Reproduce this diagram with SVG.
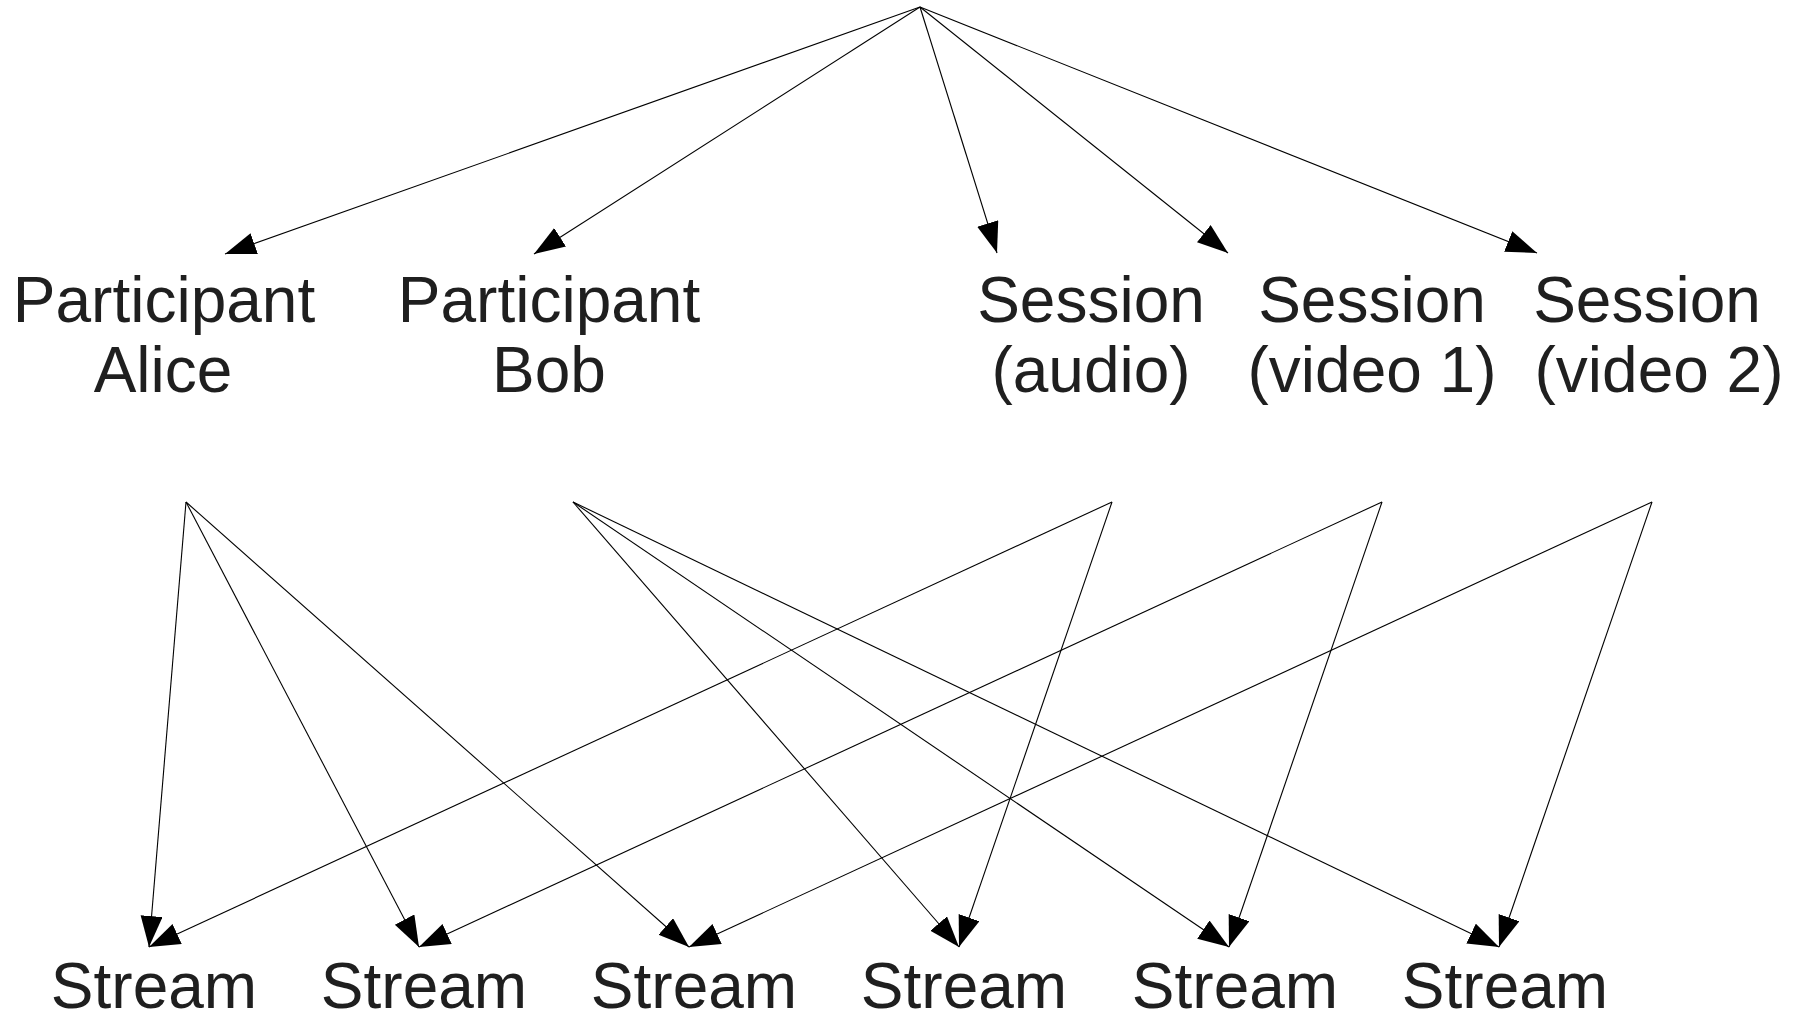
<svg xmlns="http://www.w3.org/2000/svg" width="1801" height="1022" viewBox="0 0 1801 1022">
<style>
.lbl{font-family:"Liberation Sans",Arial,sans-serif;font-size:64px;fill:#1f1f1f;text-anchor:middle}
.edge{stroke:#000;stroke-width:1.1;fill:none;marker-end:url(#arr)}
</style>
<defs>
<marker id="arr" markerUnits="userSpaceOnUse" markerWidth="32" markerHeight="23" refX="31" refY="11" orient="auto">
<path d="M0,0 L31,11 L0,22 Z" fill="#000"/>
</marker>
</defs>
<rect width="1801" height="1022" fill="#fff"/>
<g id="connectors">
<line class="edge" x1="920" y1="7" x2="225" y2="254"/>
<line class="edge" x1="920" y1="7" x2="534" y2="254"/>
<line class="edge" x1="920" y1="7" x2="997" y2="253"/>
<line class="edge" x1="920" y1="7" x2="1228" y2="253"/>
<line class="edge" x1="920" y1="7" x2="1537" y2="253"/>
<line class="edge" x1="186" y1="502" x2="149" y2="947"/>
<line class="edge" x1="186" y1="502" x2="419" y2="947"/>
<line class="edge" x1="186" y1="502" x2="689" y2="947"/>
<line class="edge" x1="573" y1="502" x2="959" y2="947"/>
<line class="edge" x1="573" y1="502" x2="1229" y2="947"/>
<line class="edge" x1="573" y1="502" x2="1499" y2="947"/>
<line class="edge" x1="1112" y1="502" x2="149" y2="947"/>
<line class="edge" x1="1112" y1="502" x2="959" y2="947"/>
<line class="edge" x1="1382" y1="502" x2="419" y2="947"/>
<line class="edge" x1="1382" y1="502" x2="1229" y2="947"/>
<line class="edge" x1="1652" y1="502" x2="689" y2="947"/>
<line class="edge" x1="1652" y1="502" x2="1499" y2="947"/>
</g>
<g id="alice"><text class="lbl" x="164" y="322">Participant</text><text class="lbl" x="163" y="392">Alice</text></g>
<g id="bob"><text class="lbl" x="549" y="322">Participant</text><text class="lbl" x="549" y="392">Bob</text></g>
<g id="audio"><text class="lbl" x="1091" y="322">Session</text><text class="lbl" x="1091" y="392">(audio)</text></g>
<g id="video1"><text class="lbl" x="1372" y="322">Session</text><text class="lbl" x="1372" y="392">(video 1)</text></g>
<g id="video2"><text class="lbl" x="1647" y="322">Session</text><text class="lbl" x="1659" y="392">(video 2)</text></g>
<g id="stream1"><text class="lbl" x="154" y="1008">Stream</text></g>
<g id="stream2"><text class="lbl" x="424" y="1008">Stream</text></g>
<g id="stream3"><text class="lbl" x="694" y="1008">Stream</text></g>
<g id="stream4"><text class="lbl" x="964" y="1008">Stream</text></g>
<g id="stream5"><text class="lbl" x="1235" y="1008">Stream</text></g>
<g id="stream6"><text class="lbl" x="1505" y="1008">Stream</text></g>
</svg>
